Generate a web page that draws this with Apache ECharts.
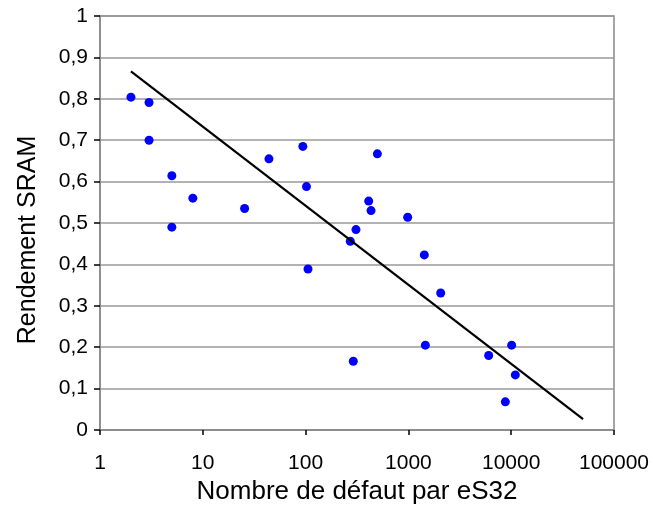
<!DOCTYPE html>
<html>
<head>
<meta charset="utf-8">
<script src="https://cdn.jsdelivr.net/npm/echarts@6/dist/echarts.min.js"></script>
<style>html,body{margin:0;padding:0;background:#fff;}#c{width:653px;height:508px;}</style>
</head>
<body>
<div id="c"></div>
<script>
// Measured points: defects per eS32 (x) vs SRAM yield (y)
var defectCounts = [2, 3, 3, 5, 8, 5, 25.5, 44, 94, 102, 499, 411, 433, 984, 309, 272, 105.5, 1429, 2061, 1462, 291, 6040, 10100, 10970, 8770];
var sramYield    = [0.804, 0.791, 0.700, 0.614, 0.560, 0.490, 0.535, 0.655, 0.685, 0.588, 0.667, 0.553, 0.530, 0.514, 0.484, 0.456, 0.389, 0.423, 0.331, 0.205, 0.166, 0.180, 0.205, 0.133, 0.068];
// Trend line end points
var trendX = [2, 50000];
var trendY = [0.866, 0.026];
var yTicks = [0, 0.1, 0.2, 0.3, 0.4, 0.5, 0.6, 0.7, 0.8, 0.9, 1];

var scatterData = defectCounts.map(function (x, i) { return [x, sramYield[i]]; });
var trendData = trendX.map(function (x, i) { return [x, trendY[i]]; });

var chart = echarts.init(document.getElementById('c'));
chart.setOption({
  animation: false,
  textStyle: { fontFamily: 'Liberation Sans, Arial, sans-serif' },
  grid: { left: 100, right: 39, top: 16, bottom: 78, containLabel: false, outerBoundsMode: 'none', show: true, borderColor: '#888', borderWidth: 1.5, backgroundColor: 'transparent' },
  xAxis: {
    type: 'log', logBase: 10, min: 1, max: 100000,
    name: 'Nombre de défaut par eS32', nameLocation: 'middle', nameGap: 46,
    nameTextStyle: { fontSize: 26, color: '#000' },
    axisLine: { lineStyle: { color: '#888', width: 1.5 } },
    axisTick: { show: true, inside: false, length: 5, lineStyle: { color: '#000', width: 1.5 } },
    axisLabel: { fontSize: 21, color: '#000', margin: 23, formatter: function (v) { return String(Math.round(v)); } },
    splitLine: { show: false },
    minorTick: { show: false }
  },
  yAxis: {
    type: 'value', min: 0, max: 1, interval: 0.1,
    name: 'Rendement SRAM', nameLocation: 'middle', nameGap: 59,
    nameTextStyle: { fontSize: 25, color: '#000', padding: [0, 0, 0, -34] },
    axisLine: { show: true, lineStyle: { color: '#888', width: 1.5 } },
    axisTick: { show: true, inside: false, length: 6, lineStyle: { color: '#000', width: 1.5 } },
    axisLabel: { fontSize: 21, color: '#000', margin: 12, formatter: function (v) {
      var t = yTicks.reduce(function (a, b) { return Math.abs(b - v) < Math.abs(a - v) ? b : a; });
      return (t === 0 || t === 1) ? String(t) : t.toFixed(1).replace('.', ',');
    } },
    splitLine: { show: true, lineStyle: { color: '#999', width: 1.5 } }
  },
  series: [
    { type: 'scatter', data: scatterData, symbol: 'circle', symbolSize: 9, itemStyle: { color: '#0000ff', opacity: 1 }, z: 3 },
    { type: 'line', data: trendData, symbol: 'none', lineStyle: { color: '#000', width: 2.2 }, z: 4 }
  ]
});
</script>
</body>
</html>
